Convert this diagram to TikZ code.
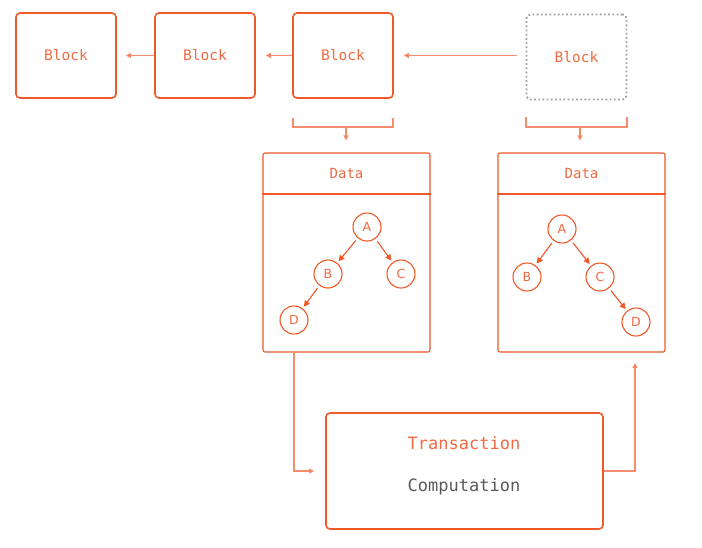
\documentclass[tikz,border=0pt]{standalone}
\usepackage{fontspec}
\setmonofont{DejaVu Sans Mono}
\setsansfont{DejaVu Sans}
\usetikzlibrary{arrows.meta}
\definecolor{org}{RGB}{240,88,40}
\definecolor{lorg}{RGB}{245,140,110}
\definecolor{torg}{RGB}{240,105,65}
\definecolor{dgray}{RGB}{90,90,90}
\definecolor{lgray}{RGB}{160,160,160}
\tikzset{
  blockbox/.style={draw=org,line width=1.6pt,rounded corners=4pt,minimum width=100pt,minimum height=85pt,inner sep=0pt,text=torg,font=\ttfamily\fontsize{14.5}{16}\selectfont},
  ghostbox/.style={blockbox,draw=lgray,line width=1.8pt,dash pattern=on 1.8pt off 2.4pt},
  databox/.style={draw=org,line width=1.1pt,rounded corners=2pt,minimum width=167pt,minimum height=199pt,inner sep=0pt},
  datatitle/.style={text=torg,font=\ttfamily\fontsize{14}{16}\selectfont},
  tnode/.style={circle,draw=org,line width=1.1pt,minimum size=28pt,inner sep=0pt,text=torg,font=\sffamily\fontsize{12.5}{14}\selectfont},
  tarrow/.style={draw=org,line width=1.1pt,-{Triangle[length=6pt,width=6pt]},shorten <=3pt,shorten >=2pt},
  conn/.style={draw=lorg,line width=1.1pt,-{Triangle[length=5pt,width=5pt,fill=org]}},
  brk/.style={draw=lorg,line width=1.1pt},
  txbox/.style={draw=org,line width=1.6pt,rounded corners=4pt,minimum width=277pt,minimum height=116pt,inner sep=0pt},
}
\begin{document}
\begin{tikzpicture}[x=1pt,y=-1pt]
\useasboundingbox (0,0) rectangle (702,547);
% blocks
\node[blockbox] (b1) at (66,55.5) {Block};
\node[blockbox] (b2) at (205,55.5) {Block};
\node[blockbox] (b3) at (343,55.5) {Block};
\node[ghostbox] (b4) at (576.5,57) {Block};
\draw[conn,shorten >=9pt] (b2.west) -- (b1.east);
\draw[conn,shorten >=10pt] (b3.west) -- (b2.east);
\draw[conn,shorten <=9pt,shorten >=10pt] (b4.west |- b3.east) -- (b3.east);
% brackets
\draw[brk] (293,118) -- (293,127) -- (393,127) -- (393,118);
\draw[brk] (526,117) -- (526,127) -- (627,127) -- (627,117);
\coordinate (k1) at (346,127);
\coordinate (k2) at (580,127);
% data boxes
\node[databox] (d1) at (346.5,252.5) {};
\node[databox] (d2) at (581.5,252.5) {};
\draw[draw=org,line width=1.1pt] (d1.west |- 0,194) -- (d1.east |- 0,194);
\draw[draw=org,line width=1.1pt] (d2.west |- 0,194) -- (d2.east |- 0,194);
\node[datatitle] (t1) at (346.5,173.5) {Data};
\node[datatitle] (t2) at (581.5,173) {Data};
\draw[conn,shorten >=12pt] (k1) -- (k1 |- d1.north);
\draw[conn,shorten >=12pt] (k2) -- (k2 |- d2.north);
% tree 1
\node[tnode] (a1) at (367,227) {A};
\node[tnode] (bb1) at (328,274) {B};
\node[tnode] (c1) at (401,274) {C};
\node[tnode] (dd1) at (294,320) {D};
\draw[tarrow] (a1) -- (bb1);
\draw[tarrow] (a1) -- (c1);
\draw[tarrow] (bb1) -- (dd1);
% tree 2
\node[tnode] (a2) at (562,229) {A};
\node[tnode] (bb2) at (527,277) {B};
\node[tnode] (c2) at (600,277) {C};
\node[tnode] (dd2) at (636,322) {D};
\draw[tarrow] (a2) -- (bb2);
\draw[tarrow] (a2) -- (c2);
\draw[tarrow] (c2) -- (dd2);
% transaction
\node[txbox] (tx) at (464.5,471) {};
\node[text=torg,font=\ttfamily\fontsize{17}{19}\selectfont] (ttx) at (464,443) {Transaction};
\node[text=dgray,font=\ttfamily\fontsize{17}{19}\selectfont] (tcp) at (464,487) {Computation};
\coordinate (o1) at (294,352);
\coordinate (i2) at (635,352);
\draw[conn,shorten >=11pt] (o1) |- (tx.west);
\draw[conn,shorten >=11pt] (tx.east) -| (i2);
\end{tikzpicture}
\end{document}
